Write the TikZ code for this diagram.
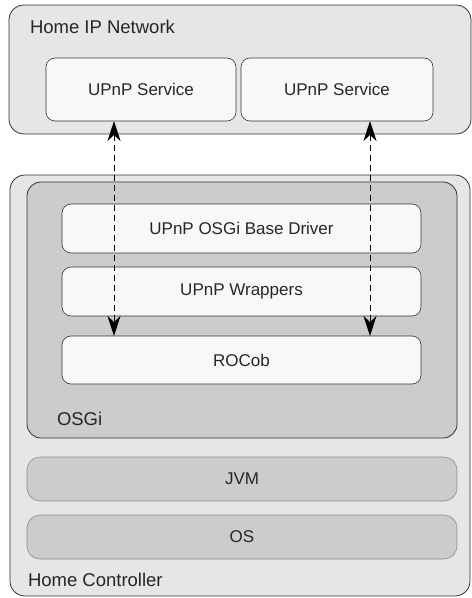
\documentclass[tikz,border=0pt]{standalone}
\usepackage{fontspec}
\setmainfont{Liberation Sans}
\usetikzlibrary{arrows.meta}

\definecolor{outergray}{HTML}{E6E6E6}
\definecolor{midgray}{HTML}{CCCCCC}
\definecolor{boxwhite}{HTML}{F8F8F8}
\definecolor{edgedark}{HTML}{333333}

\begin{document}
\begin{tikzpicture}[x=1bp, y=-1bp,
        every node/.style={font=\fontsize{17bp}{20bp}\selectfont, text=black!85, inner sep=0pt, outer sep=0pt},
        grouplbl/.style={anchor=west, font=\fontsize{18.5bp}{22bp}\selectfont},
        outerbox/.style={draw=edgedark, fill=outergray, rounded corners=15bp, line width=0.8pt},
        layerbox/.style={draw=edgedark, fill=midgray, rounded corners=14bp, line width=0.8pt},
        platbox/.style={draw=black!45, fill=midgray, rounded corners=13bp, line width=0.6pt},
        compbox/.style={draw=edgedark, fill=boxwhite, rounded corners=9bp, line width=0.6pt},
        linktip/.tip={Stealth[length=20bp, width=13bp, inset=6bp]},
        link/.style={line width=1pt, dash pattern=on 6bp off 4bp, linktip-linktip}]
        \useasboundingbox (0,0) rectangle (472,598);

        % home network side
        \node[outerbox, minimum width=462bp, minimum height=129bp] (net) at (240,69.5) {};
        \node[grouplbl] (netlbl) at (30,27) {Home IP Network};
        \node[compbox, minimum width=190bp, minimum height=63bp] (svcA) at (141,89.5) {UPnP Service};
        \node[compbox, minimum width=192bp, minimum height=63bp] (svcB) at (337,89.5) {UPnP Service};

        % controller side
        \node[outerbox, minimum width=460bp, minimum height=421bp] (ctrl) at (240,385.5) {};
        \node[layerbox, minimum width=430bp, minimum height=256bp] (osgi) at (242,310) {};
        \node[compbox, minimum width=359bp, minimum height=49bp] (basedrv) at (241.5,228.5) {UPnP OSGi Base Driver};
        \node[compbox, minimum width=359bp, minimum height=49bp] (wrap) at (241.5,291.5) {UPnP Wrappers};
        \node[compbox, minimum width=359bp, minimum height=48bp] (rocob) at (241.5,360) {ROCob};
        \node[grouplbl] (osgilbl) at (57,419) {OSGi};

        \node[platbox, minimum width=430bp, minimum height=44bp] (jvm) at (242,479) {JVM};
        \node[platbox, minimum width=430bp, minimum height=44bp] (os) at (242,537) {OS};
        \node[grouplbl] (ctrllbl) at (28,580) {Home Controller};

        % links between services and ROCob
        \coordinate (linkA) at (114,0);
        \coordinate (linkB) at (370,0);
        \draw[link] (linkA |- svcA.south) -- (linkA |- rocob.north);
        \draw[link] (linkB |- svcB.south) -- (linkB |- rocob.north);
\end{tikzpicture}
\end{document}
